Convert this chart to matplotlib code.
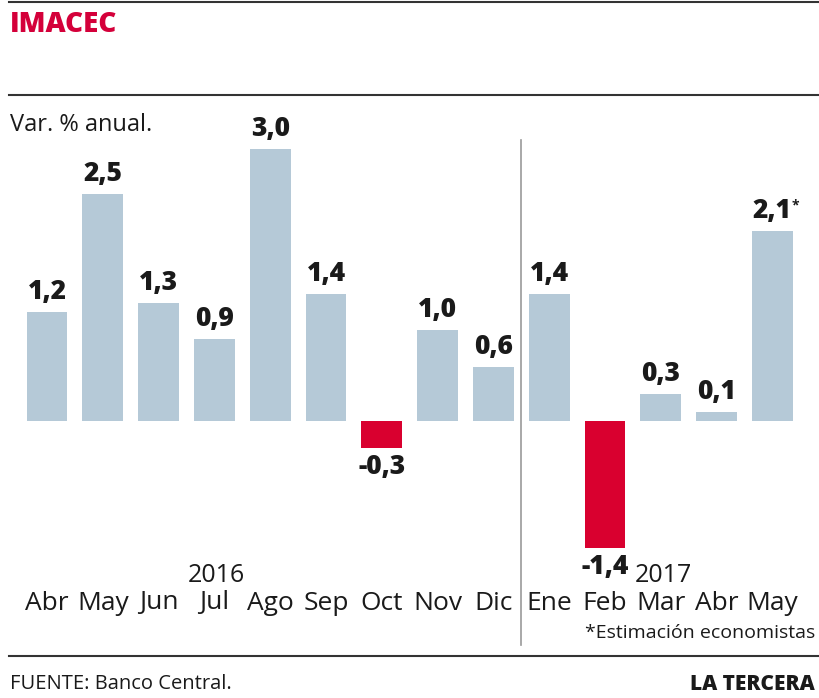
import matplotlib
matplotlib.use("Agg")
import matplotlib.pyplot as plt
from matplotlib.lines import Line2D

plt.rcParams['font.family'] = ['Open Sans', 'DejaVu Sans']

# Data
months = ['Abr', 'May', 'Jun', 'Jul', 'Ago', 'Sep', 'Oct',
          'Nov', 'Dic', 'Ene', 'Feb', 'Mar', 'Abr', 'May']
values = [1.2, 2.5, 1.3, 0.9, 3.0, 1.4, -0.3,
          1.0, 0.6, 1.4, -1.4, 0.3, 0.1, 2.1]
value_labels = ['1,2', '2,5', '1,3', '0,9', '3,0', '1,4', '-0,3',
                '1,0', '0,6', '1,4', '-1,4', '0,3', '0,1', '2,1']
years = ['2016', '2017']
year_pos = [3, 11]

BLUE = '#b5c9d7'
RED = '#d9002f'
DARK = '#1a1a1a'

W, H = 820, 698
fig = plt.figure(figsize=(W / 100, H / 100), dpi=100)


def fx(px):
    return px / W


def fy(py):
    return 1 - py / H


# bar axes placed in pixel space: centers at 47 + 55.8*i, baseline at y=421
step = 55.8
ppu = 90.7
ax = fig.add_axes([0, fy(657), 1, (657 - 95) / H])
ax.set_xlim(-47 / step, (W - 47) / step)
ax.set_ylim(-(657 - 421) / ppu, (421 - 95) / ppu)
ax.axis('off')

x = list(range(len(values)))
colors = [RED if v < 0 else BLUE for v in values]
ax.bar(x, values, width=0.73, color=colors, linewidth=0)

for i, (v, lab) in enumerate(zip(values, value_labels)):
    if v >= 0:
        ax.annotate(lab, (i, v), xytext=(0, 5), textcoords='offset points',
                    ha='center', va='bottom', fontsize=19, fontweight='heavy',
                    color=DARK)
    else:
        ax.annotate(lab, (i, v), xytext=(0, -4), textcoords='offset points',
                    ha='center', va='top', fontsize=19, fontweight='heavy',
                    color=DARK)
# asterisk on the estimated last value
ax.annotate('*', (len(values) - 1, values[-1]), xytext=(14, 18),
            textcoords='offset points', ha='left', va='center',
            fontsize=10, fontweight='bold', color=DARK)

# month labels
month_y = -(603 - 421) / ppu
for i, m in enumerate(months):
    ax.text(i, month_y, m, ha='center', va='center', fontsize=19, color=DARK)

year_y = -(576 - 421) / ppu
for yp, yr in zip(year_pos, years):
    ax.text(yp + 0.04, year_y, yr, ha='center', va='center', fontsize=18, color=DARK)

# separator between years
fig.add_artist(Line2D([fx(521), fx(521)], [fy(140), fy(645)],
                      color='#999999', lw=1.2))

# rules
for py in (2, 95, 656):
    fig.add_artist(Line2D([fx(9), 1], [fy(py), fy(py)], color='#333333', lw=1.5))

fig.text(fx(10), fy(25), 'IMACEC', ha='left', va='center', fontsize=20,
         fontweight='heavy', color='#d4003a')
fig.text(fx(10), fy(125), 'Var. % anual.', ha='left', va='center',
         fontsize=17, color=DARK)
fig.text(fx(815), fy(633), '*Estimación economistas', ha='right', va='center',
         fontsize=14, color=DARK)
fig.text(fx(10), fy(684), 'FUENTE: Banco Central.', ha='left', va='center',
         fontsize=14.5, color=DARK)
fig.text(fx(815), fy(684), 'LA TERCERA', ha='right', va='center',
         fontsize=15, fontweight='heavy', color=DARK)

fig.savefig('out.png', dpi=100)
